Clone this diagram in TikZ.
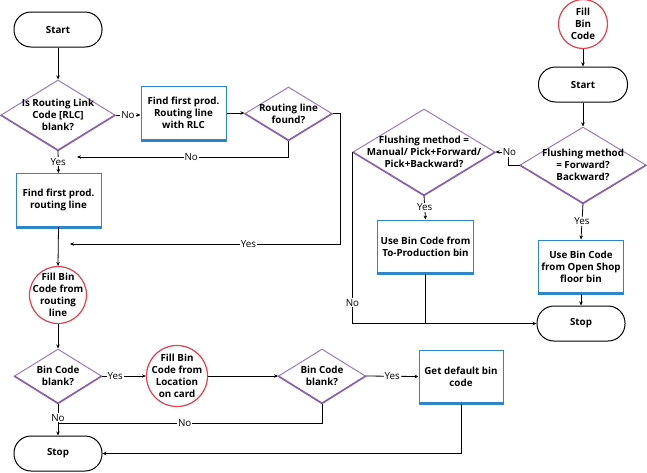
\documentclass[tikz,border=0pt]{standalone}
\usepackage{fontspec}
\setmainfont{Open Sans}
\usetikzlibrary{shapes.geometric, arrows.meta}

\definecolor{flowpurple}{HTML}{9B7BBD}
\definecolor{flowpurpledk}{HTML}{8563AE}
\definecolor{flowblue}{HTML}{2E86C8}
\definecolor{flowred}{HTML}{E0404F}

\tikzset{
  boxfont/.style={font=\fontsize{9.8}{12}\selectfont\bfseries},
  every label/.style={boxfont, align=center, inner sep=0pt},
  term/.style={rectangle, rounded corners=17pt, draw, line width=1pt, minimum width=88, minimum height=35, boxfont},
  dia/.style={diamond, draw=flowpurple, line width=1pt, inner sep=0pt,
    append after command={(\tikzlastnode.west) edge[flowpurpledk, line width=1.5pt] (\tikzlastnode.south)
      (\tikzlastnode.south) edge[flowpurpledk, line width=1.5pt] (\tikzlastnode.east)}},
  procbox/.style={rectangle, draw=flowblue, line width=1pt, minimum width=85, minimum height=53, align=center, boxfont,
    append after command={(\tikzlastnode.south west) edge[flowblue, line width=3pt] (\tikzlastnode.south east)}},
  conn/.style={circle, draw=flowred, line width=1.2pt, inner sep=0pt},
  flow/.style={-{Stealth[length=4pt, width=3.5pt]}, line width=0.8pt},
  lbl/.style={fill=white, inner sep=1pt, font=\fontsize{9.8}{12}\selectfont}
}

\begin{document}
\begin{tikzpicture}[x=1pt, y=-1pt]

\fill[white] (0,0) rectangle (647,472);
\useasboundingbox (0,0) rectangle (647,472);

\node[term] (start1) at (58,29.5) {Start};
\node[dia, minimum width=114, minimum height=70, label={center:Is Routing Link\\Code [RLC]\\blank?}] (rlcblank) at (58,115) {};
\node[procbox] (firstrlc) at (183.5,113) {Find first prod.\\Routing line\\with RLC};
\node[dia, minimum width=87, minimum height=53, label={center:Routing line\\found?}] (linefound) at (288.5,113.5) {};
\node[procbox] (firstline) at (58.5,200) {Find first prod.\\routing line};
\node[conn, minimum size=57, label={center:Fill Bin\\Code from\\routing\\line}] (fillrouting) at (58,295) {};
\node[dia, minimum width=87, minimum height=54, label={center:Bin Code\\blank?}] (binblankA) at (58,376) {};
\node[conn, minimum size=61, label={center:Fill Bin\\Code from\\Location\\on card}] (filllocation) at (177,376) {};
\node[dia, minimum width=87, minimum height=54, label={center:Bin Code\\blank?}] (binblankB) at (322,376) {};
\node[procbox, minimum width=84] (defaultbin) at (461,376.5) {Get default bin\\code};
\node[term] (stop1) at (58,453.5) {Stop};

\node[conn, minimum size=49, label={center:Fill\\Bin\\Code}] (fillbin) at (583,24) {};
\node[term, minimum width=89] (start2) at (583,84.5) {Start};
\node[dia, minimum width=126, minimum height=76, label={center:Flushing method\\= Forward?\\Backward?}] (fwdbwd) at (583,165) {};
\node[dia, minimum width=142, minimum height=86, label={center:Flushing method =\\Manual/ Pick+Forward/\\Pick+Backward?}] (manual) at (424,152) {};
\node[procbox, minimum width=95] (toprod) at (425.5,246.5) {Use Bin Code from\\To-Production bin};
\node[procbox, minimum width=84] (openshop) at (581,266.5) {Use Bin Code\\from Open Shop\\floor bin};
\node[term] (stop2) at (581,323.5) {Stop};

\coordinate (noback) at (77,157);
\coordinate (yesback) at (70,244);
\coordinate (nojoin) at (58,423);

\draw[flow] (start1.south) -- (rlcblank.north);
\draw[flow] (rlcblank.east) -- node[lbl]{No} (rlcblank.east -| firstrlc.west);
\draw[flow] (firstrlc.east) -- (firstrlc.east -| linefound.west);
\draw[flow] (linefound.south) |- node[lbl, pos=0.73]{No} (noback);
\draw[flow] (rlcblank.south) -- node[lbl]{Yes} (firstline.north);
\draw[flow] (linefound.east) -- ++(8,0) |- node[lbl, pos=0.67]{Yes} (yesback);
\draw[flow] (firstline.south) -- (fillrouting.north);
\draw[flow] (fillrouting.south) -- (binblankA.north);
\draw[flow] (binblankA.east) -- node[lbl, pos=0.3]{Yes} (filllocation.west);
\draw[flow] (filllocation.east) -- (binblankB.west);
\draw[flow] (binblankB.east) -- node[lbl]{Yes} (defaultbin.west);
\draw[flow] (defaultbin.south) |- (stop1.east);
\draw[flow] (binblankA.south) -- node[lbl, pos=0.45]{No} (stop1.north);
\draw[line width=0.8pt] (binblankB.south) |- node[lbl, pos=0.76]{No} (nojoin);

\draw[flow] (fillbin.south) -- (start2.north);
\draw[flow] (start2.south) -- (fwdbwd.north);
\draw[flow] (fwdbwd.west) -- ++(-11,0) |- node[lbl, pos=0.5, xshift=1]{No} (manual.east);
\draw[flow] (fwdbwd.south) -- node[lbl]{Yes} (openshop.north);
\draw[flow] (openshop.south) -- (stop2.north);
\draw[flow] (manual.south) -- node[lbl]{Yes} (toprod.north);
\draw[line width=0.8pt] (toprod.south) -- (toprod.south |- stop2.west);
\draw[flow] (manual.west) |- node[lbl, pos=0.44]{No} (stop2.west);

\end{tikzpicture}
\end{document}
